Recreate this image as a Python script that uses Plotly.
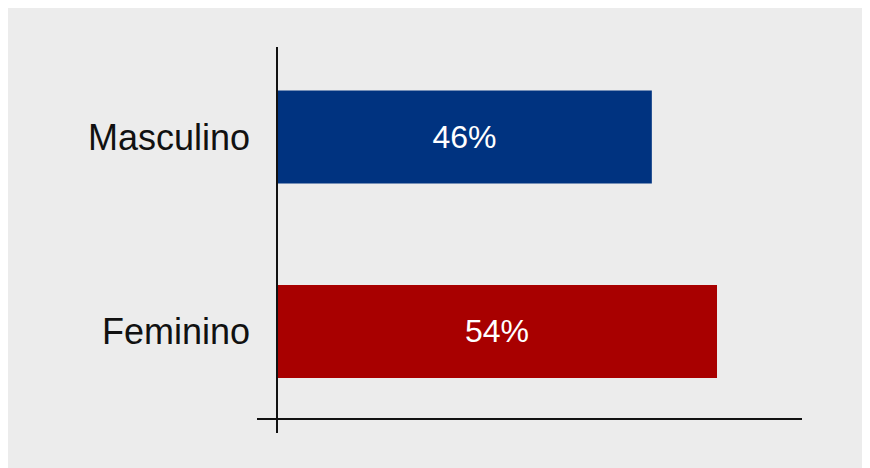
import plotly.graph_objects as go

categories = ["Feminino", "Masculino"]
values = [54, 46]
bar_colors = ["#a80000", "#003380"]
labels = [f"{v}%" for v in values]

W, H = 866, 460
fig = go.Figure()
fig.add_trace(go.Bar(
    y=categories, x=values, orientation="h",
    marker=dict(color=bar_colors, line=dict(width=0)),
    width=0.478,
    text=labels, textposition="inside", insidetextanchor="middle",
    textfont=dict(family="Liberation Sans, Arial, sans-serif", size=32, color="white"),
    hoverinfo="skip",
))

fig.update_layout(
    width=W, height=H, autosize=False,
    margin=dict(l=249, r=72, t=39, b=35, pad=0),
    paper_bgcolor="#ececec", plot_bgcolor="#ececec",
    showlegend=False,
    xaxis=dict(range=[-2.455, 64.43], showgrid=False, zeroline=False,
               showticklabels=False, showline=False, fixedrange=True),
    yaxis=dict(categoryorder="array", categoryarray=categories,
               range=[-0.522, 1.463], showgrid=False, zeroline=False,
               showline=False, ticks="", ticklabelstandoff=6,
               tickfont=dict(family="Liberation Sans, Arial, sans-serif", size=36, color="#111111")),
    shapes=[
        dict(type="line", xref="x", yref="paper", x0=0, x1=0, y0=0, y1=1,
             line=dict(color="#111111", width=2), layer="above"),
        dict(type="line", xref="paper", yref="y", x0=0, x1=1, y0=-0.45, y1=-0.45,
             line=dict(color="#111111", width=2), layer="above"),
    ],
)

fig.write_html("out.html")
